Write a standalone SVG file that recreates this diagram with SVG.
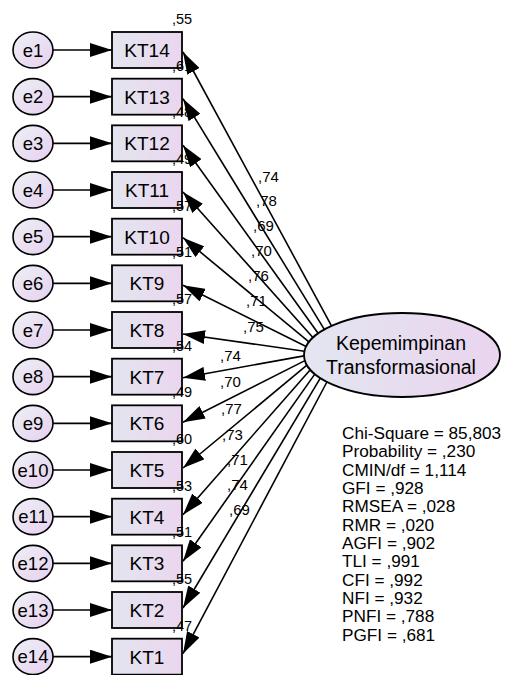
<svg xmlns="http://www.w3.org/2000/svg" width="506" height="675" viewBox="0 0 506 675">
<style>
text{font-family:"Liberation Sans",Arial,sans-serif;fill:#000}
.box{fill:url(#gBox);stroke:#000;stroke-width:1.8}
.err{fill:url(#gErr);stroke:#000;stroke-width:1.6}
.bl{font-size:19px;text-anchor:middle}
.lt{font-size:19.5px;text-anchor:middle}
.el{font-size:18.5px;text-anchor:middle}
.r2{font-size:14.5px}
.ld{font-size:15px}
.st{font-size:17.2px}
.cn{stroke:#000;stroke-width:1.6;fill:none;marker-end:url(#ah)}
</style>
<defs>
<linearGradient id="gBox" x1="0" y1="0" x2="1" y2="0"><stop offset="0" stop-color="#e3e5ef"/><stop offset="1" stop-color="#ebd6ef"/></linearGradient>
<linearGradient id="gErr" x1="0" y1="0" x2="1" y2="1"><stop offset="0" stop-color="#eef0f6"/><stop offset="1" stop-color="#e6d0ef"/></linearGradient>
<linearGradient id="gLat" x1="0" y1="0" x2="1" y2="0"><stop offset="0" stop-color="#e3e6f0"/><stop offset="1" stop-color="#ead4ef"/></linearGradient>
<marker id="ah" markerUnits="userSpaceOnUse" markerWidth="22" markerHeight="14" refX="22" refY="7" orient="auto"><path d="M0,0 L22,7 L0,14 z" fill="#000"/></marker>
</defs>

<g id="errors">
<g id="e1"><ellipse class="err" cx="33" cy="50" rx="20" ry="18"/><text class="el" x="33" y="56.5">e1</text></g>
<g id="e2"><ellipse class="err" cx="33" cy="96.67" rx="20" ry="18"/><text class="el" x="33" y="103.17">e2</text></g>
<g id="e3"><ellipse class="err" cx="33" cy="143.33" rx="20" ry="18"/><text class="el" x="33" y="149.83">e3</text></g>
<g id="e4"><ellipse class="err" cx="33" cy="190" rx="20" ry="18"/><text class="el" x="33" y="196.5">e4</text></g>
<g id="e5"><ellipse class="err" cx="33" cy="236.67" rx="20" ry="18"/><text class="el" x="33" y="243.17">e5</text></g>
<g id="e6"><ellipse class="err" cx="33" cy="283.33" rx="20" ry="18"/><text class="el" x="33" y="289.83">e6</text></g>
<g id="e7"><ellipse class="err" cx="33" cy="330" rx="20" ry="18"/><text class="el" x="33" y="336.5">e7</text></g>
<g id="e8"><ellipse class="err" cx="33" cy="376.67" rx="20" ry="18"/><text class="el" x="33" y="383.17">e8</text></g>
<g id="e9"><ellipse class="err" cx="33" cy="423.33" rx="20" ry="18"/><text class="el" x="33" y="429.83">e9</text></g>
<g id="e10"><ellipse class="err" cx="33" cy="470" rx="20" ry="18"/><text class="el" x="33" y="476.5">e10</text></g>
<g id="e11"><ellipse class="err" cx="33" cy="516.67" rx="20" ry="18"/><text class="el" x="33" y="523.17">e11</text></g>
<g id="e12"><ellipse class="err" cx="33" cy="563.33" rx="20" ry="18"/><text class="el" x="33" y="569.83">e12</text></g>
<g id="e13"><ellipse class="err" cx="33" cy="610" rx="20" ry="18"/><text class="el" x="33" y="616.5">e13</text></g>
<g id="e14"><ellipse class="err" cx="33" cy="656.67" rx="20" ry="18"/><text class="el" x="33" y="663.17">e14</text></g>
</g>

<g id="indicators">
<g id="KT14"><rect class="box" x="112" y="32" width="70" height="36"/><text class="bl" x="147" y="57">KT14</text><text class="r2" x="172" y="24">,55</text></g>
<g id="KT13"><rect class="box" x="112" y="78.67" width="70" height="36"/><text class="bl" x="147" y="103.67">KT13</text><text class="r2" x="172" y="70.67">,61</text></g>
<g id="KT12"><rect class="box" x="112" y="125.33" width="70" height="36"/><text class="bl" x="147" y="150.33">KT12</text><text class="r2" x="172" y="117.33">,48</text></g>
<g id="KT11"><rect class="box" x="112" y="172" width="70" height="36"/><text class="bl" x="147" y="197">KT11</text><text class="r2" x="172" y="164">,49</text></g>
<g id="KT10"><rect class="box" x="112" y="218.67" width="70" height="36"/><text class="bl" x="147" y="243.67">KT10</text><text class="r2" x="172" y="210.67">,57</text></g>
<g id="KT9"><rect class="box" x="112" y="265.33" width="70" height="36"/><text class="bl" x="147" y="290.33">KT9</text><text class="r2" x="172" y="257.33">,51</text></g>
<g id="KT8"><rect class="box" x="112" y="312" width="70" height="36"/><text class="bl" x="147" y="337">KT8</text><text class="r2" x="172" y="304">,57</text></g>
<g id="KT7"><rect class="box" x="112" y="358.67" width="70" height="36"/><text class="bl" x="147" y="383.67">KT7</text><text class="r2" x="172" y="350.67">,54</text></g>
<g id="KT6"><rect class="box" x="112" y="405.33" width="70" height="36"/><text class="bl" x="147" y="430.33">KT6</text><text class="r2" x="172" y="397.33">,49</text></g>
<g id="KT5"><rect class="box" x="112" y="452" width="70" height="36"/><text class="bl" x="147" y="477">KT5</text><text class="r2" x="172" y="444">,60</text></g>
<g id="KT4"><rect class="box" x="112" y="498.67" width="70" height="36"/><text class="bl" x="147" y="523.67">KT4</text><text class="r2" x="172" y="490.67">,53</text></g>
<g id="KT3"><rect class="box" x="112" y="545.33" width="70" height="36"/><text class="bl" x="147" y="570.33">KT3</text><text class="r2" x="172" y="537.33">,51</text></g>
<g id="KT2"><rect class="box" x="112" y="592" width="70" height="36"/><text class="bl" x="147" y="617">KT2</text><text class="r2" x="172" y="584">,55</text></g>
<g id="KT1"><rect class="box" x="112" y="638.67" width="70" height="36"/><text class="bl" x="147" y="663.67">KT1</text><text class="r2" x="172" y="630.67">,47</text></g>
</g>

<g id="connectors">
<line class="cn" x1="53" y1="50" x2="112" y2="50"/>
<line class="cn" x1="53" y1="96.67" x2="112" y2="96.67"/>
<line class="cn" x1="53" y1="143.33" x2="112" y2="143.33"/>
<line class="cn" x1="53" y1="190" x2="112" y2="190"/>
<line class="cn" x1="53" y1="236.67" x2="112" y2="236.67"/>
<line class="cn" x1="53" y1="283.33" x2="112" y2="283.33"/>
<line class="cn" x1="53" y1="330" x2="112" y2="330"/>
<line class="cn" x1="53" y1="376.67" x2="112" y2="376.67"/>
<line class="cn" x1="53" y1="423.33" x2="112" y2="423.33"/>
<line class="cn" x1="53" y1="470" x2="112" y2="470"/>
<line class="cn" x1="53" y1="516.67" x2="112" y2="516.67"/>
<line class="cn" x1="53" y1="563.33" x2="112" y2="563.33"/>
<line class="cn" x1="53" y1="610" x2="112" y2="610"/>
<line class="cn" x1="53" y1="656.67" x2="112" y2="656.67"/>
<line class="cn" x1="331.5" y1="325.8" x2="183" y2="52"/>
<line class="cn" x1="324.3" y1="329.4" x2="183" y2="98.7"/>
<line class="cn" x1="318.1" y1="333.3" x2="183" y2="145.3"/>
<line class="cn" x1="312.9" y1="337.5" x2="183" y2="192"/>
<line class="cn" x1="308.9" y1="341.9" x2="183" y2="237.7"/>
<line class="cn" x1="306.1" y1="346.5" x2="183" y2="285.3"/>
<line class="cn" x1="304.4" y1="351.2" x2="183" y2="334"/>
<line class="cn" x1="304.0" y1="355.9" x2="183" y2="377.7"/>
<line class="cn" x1="304.9" y1="360.6" x2="183" y2="422.3"/>
<line class="cn" x1="306.9" y1="365.2" x2="183" y2="468"/>
<line class="cn" x1="310.3" y1="369.8" x2="183" y2="514.7"/>
<line class="cn" x1="314.8" y1="374.1" x2="183" y2="561.3"/>
<line class="cn" x1="320.3" y1="378.2" x2="183" y2="608"/>
<line class="cn" x1="326.9" y1="382.0" x2="183" y2="653.7"/>
</g>

<g id="loadings">
<text class="ld" x="258" y="182">,74</text>
<text class="ld" x="256" y="206">,78</text>
<text class="ld" x="253" y="231">,69</text>
<text class="ld" x="251" y="256">,70</text>
<text class="ld" x="248" y="281">,76</text>
<text class="ld" x="246" y="306">,71</text>
<text class="ld" x="243" y="332">,75</text>
<text class="ld" x="220" y="361">,74</text>
<text class="ld" x="220" y="387">,70</text>
<text class="ld" x="221" y="414">,77</text>
<text class="ld" x="222" y="440">,73</text>
<text class="ld" x="227" y="465">,71</text>
<text class="ld" x="227" y="490">,74</text>
<text class="ld" x="229" y="515">,69</text>
</g>

<g id="latent">
<ellipse cx="402" cy="355" rx="98" ry="42" fill="url(#gLat)" stroke="#000" stroke-width="1.8"/>
<text class="lt" x="401" y="350">Kepemimpinan</text>
<text class="lt" x="401" y="374">Transformasional</text>
</g>

<g id="fit">
<text class="st" x="342" y="439">Chi-Square = 85,803</text>
<text class="st" x="342" y="457.3">Probability = ,230</text>
<text class="st" x="342" y="475.7">CMIN/df = 1,114</text>
<text class="st" x="342" y="494">GFI = ,928</text>
<text class="st" x="342" y="512.3">RMSEA = ,028</text>
<text class="st" x="342" y="530.7">RMR = ,020</text>
<text class="st" x="342" y="549">AGFI = ,902</text>
<text class="st" x="342" y="567.3">TLI = ,991</text>
<text class="st" x="342" y="585.7">CFI = ,992</text>
<text class="st" x="342" y="604">NFI = ,932</text>
<text class="st" x="342" y="622.3">PNFI = ,788</text>
<text class="st" x="342" y="640.7">PGFI = ,681</text>
</g>
</svg>
